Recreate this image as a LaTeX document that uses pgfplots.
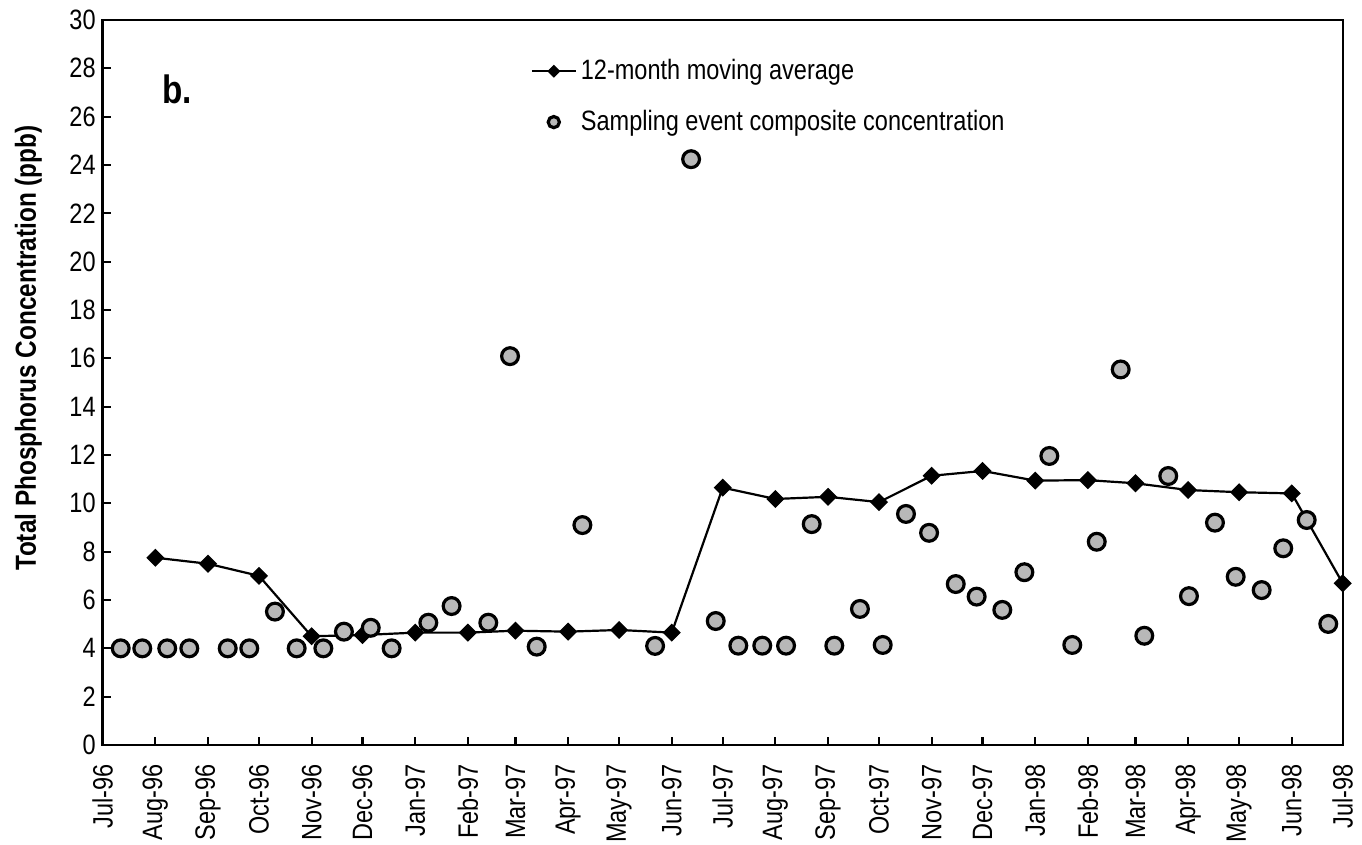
\documentclass[border=0pt]{standalone}
\usepackage{fontspec}
\setmainfont{Liberation Sans}[FakeStretch=0.84]
\usepackage{pgfplots}
\pgfplotsset{compat=1.18}
\pgfplotsset{
  malegend/.style={legend image code/.code={\draw[mark repeat=2, mark phase=2, ##1, mark size=2pt] plot coordinates {(0pt,0pt) (11pt,0pt) (22pt,0pt)};}},
  circlegend/.style={legend image code/.code={\draw[##1, mark size=2.8pt, line width=1.1pt] plot coordinates {(11pt,0pt)};}},
}
\begin{document}
\begin{tikzpicture}
\begin{axis}[
  name=ax,
  scale only axis,
  width=620pt, height=362.5pt,
  xmin=0, xmax=730, ymin=0, ymax=30,
  clip=false,
  axis line style={line width=1.2pt},
  tick style={line width=1.1pt, black},
  tick align=inside,
  tick pos=left,
  major tick length=4.2pt,
  xtick={0,31,62,92,123,153,184,215,243,274,304,335,365,396,427,457,488,518,549,580,608,639,669,700,730},
  xticklabels={Jul-96,Aug-96,Sep-96,Oct-96,Nov-96,Dec-96,Jan-97,Feb-97,Mar-97,Apr-97,May-97,Jun-97,Jul-97,Aug-97,Sep-97,Oct-97,Nov-97,Dec-97,Jan-98,Feb-98,Mar-98,Apr-98,May-98,Jun-98,Jul-98},
  ytick={0,2,...,30},
  /pgf/number format/assume math mode=true,
  tick label style={font=\fontsize{14}{16}\selectfont},
  xticklabel style={rotate=90, anchor=east, inner xsep=9.5pt},
  ylabel={Total Phosphorus Concentration (ppb)},
  ylabel style={font=\bfseries\fontsize{14.5}{17}\selectfont, at={(axis description cs:-0.06,0.548)}, anchor=center},
  legend style={draw=none, fill=none, at={(axis description cs:0.34,0.957)}, anchor=north west,
    font=\fontsize{14}{16}\selectfont, row sep=9.8pt},
  legend cell align=left,
]
\addplot[black, line width=1.1pt, mark=square*, mark size=2.9pt,
  mark options={rotate=45, solid, fill=black, line width=0.6pt}, malegend]
coordinates {
(31,7.75) (62,7.5) (92,7.0) (123,4.5) (153,4.55) (184,4.65) (215,4.65) (243,4.73)
(274,4.69) (304,4.76) (335,4.65) (365,10.65) (396,10.18) (427,10.27) (457,10.05)
(488,11.14) (518,11.34) (549,10.94) (580,10.96) (608,10.83) (639,10.55) (669,10.46)
(700,10.41) (730,6.69)
};
\addlegendentry{12-month moving average}
\addplot[only marks, mark=*, mark size=4.2pt,
  mark options={draw=black, fill=black!28, line width=1.6pt}, circlegend]
coordinates {
(10.6,4.0) (23.3,4.0) (38,4.0) (51,4.0) (73.6,4.0) (86.3,4.0) (101.4,5.52) (114.2,4.0)
(129.9,4.0) (142,4.69) (157.8,4.85) (170.1,4.0) (191.7,5.06) (205.4,5.75) (227,5.06)
(239.8,16.09) (255.5,4.07) (282.4,9.10) (325.2,4.10) (346.4,24.24) (360.9,5.13)
(374.2,4.11) (388.3,4.11) (402.3,4.11) (417.4,9.14) (430.7,4.11) (445.8,5.63)
(459.2,4.14) (472.9,9.56) (486.5,8.78) (502.2,6.66) (514.5,6.14) (529.6,5.59)
(542.6,7.15) (557.3,11.96) (570.8,4.14) (585.2,8.41) (599.3,15.54) (613.2,4.52)
(627.3,11.13) (639.5,6.16) (654.8,9.20) (667,6.96) (682.3,6.41) (695,8.14)
(708.8,9.31) (721.5,5.01)
};
\addlegendentry{Sampling event composite concentration}
\node[anchor=base west, font=\bfseries\fontsize{19.8}{23}\selectfont, inner sep=0pt]
  at (rel axis cs:0.0478,0.885) {b.};
\end{axis}
\pgfresetboundingbox
\path ([shift={(-51.35pt,-49.5pt)}]ax.south west) rectangle ([shift={(9.65pt,10pt)}]ax.north east);
\end{tikzpicture}
\end{document}
